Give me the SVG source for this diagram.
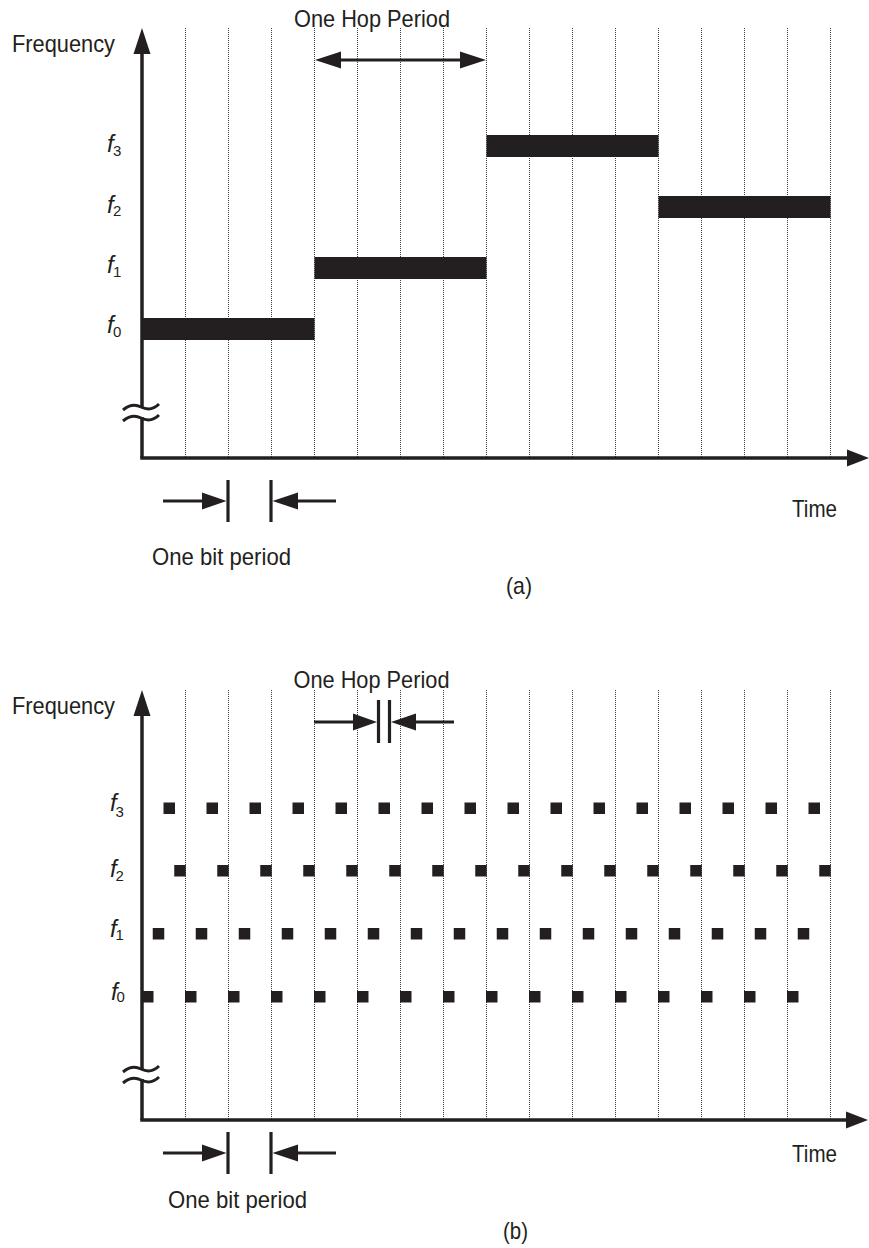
<svg xmlns="http://www.w3.org/2000/svg" width="869" height="1248" viewBox="0 0 869 1248">
<style>
  .bg{fill:#fff}
  .ax{stroke:#231f20;stroke-width:3.5;fill:none}
  .ln{stroke:#231f20;stroke-width:3.2;fill:none}
  .head{fill:#231f20}
  .bar{fill:#231f20}
  .sq{fill:#231f20}
  .wave{stroke:#231f20;stroke-width:3;fill:none}
  text{font-family:"Liberation Sans",Arial,sans-serif;fill:#231f20}
  .lbl{font-size:24px}
  .fi{font-size:24px;font-style:italic}
  .fs{font-size:15px}
</style>
<defs>
  <g id="gridlines" stroke="#3a3a3a" stroke-width="1" stroke-dasharray="1 1" fill="none">
    <line x1="185.5" y1="0" x2="185.5" y2="430"/>
    <line x1="228.5" y1="0" x2="228.5" y2="430"/>
    <line x1="271.5" y1="0" x2="271.5" y2="430"/>
    <line x1="314.5" y1="0" x2="314.5" y2="430"/>
    <line x1="357.5" y1="0" x2="357.5" y2="430"/>
    <line x1="400.5" y1="0" x2="400.5" y2="430"/>
    <line x1="443.5" y1="0" x2="443.5" y2="430"/>
    <line x1="486.5" y1="0" x2="486.5" y2="430"/>
    <line x1="529.5" y1="0" x2="529.5" y2="430"/>
    <line x1="572.5" y1="0" x2="572.5" y2="430"/>
    <line x1="615.5" y1="0" x2="615.5" y2="430"/>
    <line x1="658.5" y1="0" x2="658.5" y2="430"/>
    <line x1="701.5" y1="0" x2="701.5" y2="430"/>
    <line x1="744.5" y1="0" x2="744.5" y2="430"/>
    <line x1="787.5" y1="0" x2="787.5" y2="430"/>
    <line x1="830.5" y1="0" x2="830.5" y2="430"/>
  </g>
  <g id="sqrow" fill="#231f20">
    <rect x="0" y="0" width="11.5" height="11.5"/>
    <rect x="43" y="0" width="11.5" height="11.5"/>
    <rect x="86" y="0" width="11.5" height="11.5"/>
    <rect x="129" y="0" width="11.5" height="11.5"/>
    <rect x="172" y="0" width="11.5" height="11.5"/>
    <rect x="215" y="0" width="11.5" height="11.5"/>
    <rect x="258" y="0" width="11.5" height="11.5"/>
    <rect x="301" y="0" width="11.5" height="11.5"/>
    <rect x="344" y="0" width="11.5" height="11.5"/>
    <rect x="387" y="0" width="11.5" height="11.5"/>
    <rect x="430" y="0" width="11.5" height="11.5"/>
    <rect x="473" y="0" width="11.5" height="11.5"/>
    <rect x="516" y="0" width="11.5" height="11.5"/>
    <rect x="559" y="0" width="11.5" height="11.5"/>
    <rect x="602" y="0" width="11.5" height="11.5"/>
    <rect x="645" y="0" width="11.5" height="11.5"/>
  </g>
  <path id="brk" stroke="#231f20" stroke-width="3" fill="none" d="M123,3 C129,-2 135,-3 141,0 S153,3 159,-3"/>
</defs>
<rect class="bg" x="0" y="0" width="869" height="1248"/>

<!-- Panel (a) -->
<g id="panel-a">
  <use id="a-grid" href="#gridlines" transform="translate(0,28)"/>
  <g id="a-bars">
    <rect class="bar" x="142" y="318" width="172.5" height="22"/>
    <rect class="bar" x="314.5" y="257" width="172" height="22"/>
    <rect class="bar" x="486.5" y="135" width="172" height="22"/>
    <rect class="bar" x="658.5" y="196" width="172" height="22"/>
  </g>
  <g id="a-axes">
    <line class="ax" x1="142" y1="50" x2="142" y2="408"/>
    <line class="ax" x1="142" y1="417" x2="142" y2="458"/>
    <polygon class="head" points="142,28 150.5,54 133.5,54"/>
    <line class="ax" x1="140.25" y1="458" x2="849" y2="458"/>
    <polygon class="head" points="869,458 847,449.5 847,466.5"/>
    <use href="#brk" transform="translate(0,407)"/>
    <use href="#brk" transform="translate(0,418)"/>
  </g>
  <g id="a-flabels">
    <text class="fi" x="107" y="152">f</text><text class="fs" x="113" y="156">3</text>
    <text class="fi" x="107" y="213">f</text><text class="fs" x="113" y="216">2</text>
    <text class="fi" x="107" y="273">f</text><text class="fs" x="113" y="277">1</text>
    <text class="fi" x="107" y="333">f</text><text class="fs" x="113" y="337">0</text>
  </g>
  <g id="a-labels">
    <text class="lbl" x="12" y="52" textLength="103" lengthAdjust="spacingAndGlyphs">Frequency</text>
    <text class="lbl" x="294" y="27" textLength="156" lengthAdjust="spacingAndGlyphs">One Hop Period</text>
    <text class="lbl" x="152" y="565" textLength="139" lengthAdjust="spacingAndGlyphs">One bit period</text>
    <text class="lbl" x="792" y="517" textLength="45" lengthAdjust="spacingAndGlyphs">Time</text>
    <text class="lbl" x="506" y="594" textLength="26" lengthAdjust="spacingAndGlyphs">(a)</text>
  </g>
</g>

<!-- Panel (b) -->
<g id="panel-b">
  <use id="b-grid" href="#gridlines" transform="translate(0,690)"/>
  <g id="b-squares">
    <use href="#sqrow" transform="translate(142,991)"/>
    <use href="#sqrow" transform="translate(152.75,928)"/>
    <use href="#sqrow" transform="translate(163.5,802.5)"/>
    <use href="#sqrow" transform="translate(174.25,865)"/>
  </g>
  <g id="b-axes">
    <line class="ax" x1="142" y1="712" x2="142" y2="1070"/>
    <line class="ax" x1="142" y1="1079" x2="142" y2="1120"/>
    <polygon class="head" points="142,690 150.5,716 133.5,716"/>
    <line class="ax" x1="140.25" y1="1120" x2="849" y2="1120"/>
    <polygon class="head" points="868,1120 846,1111.5 846,1128.5"/>
    <use href="#brk" transform="translate(0,1069)"/>
    <use href="#brk" transform="translate(0,1080)"/>
  </g>
  <g id="b-flabels">
    <text class="fi" x="110" y="811">f</text><text class="fs" x="115.5" y="817">3</text>
    <text class="fi" x="110" y="877">f</text><text class="fs" x="115.5" y="881">2</text>
    <text class="fi" x="110" y="937">f</text><text class="fs" x="115.5" y="940">1</text>
    <text class="fi" x="111" y="1000">f</text><text class="fs" x="116.5" y="1002">0</text>
  </g>
  <g id="b-labels">
    <text class="lbl" x="12" y="714" textLength="103" lengthAdjust="spacingAndGlyphs">Frequency</text>
    <text class="lbl" x="293.5" y="688" textLength="156" lengthAdjust="spacingAndGlyphs">One Hop Period</text>
    <text class="lbl" x="168" y="1208" textLength="139" lengthAdjust="spacingAndGlyphs">One bit period</text>
    <text class="lbl" x="792" y="1162" textLength="45" lengthAdjust="spacingAndGlyphs">Time</text>
    <text class="lbl" x="503" y="1239" textLength="25" lengthAdjust="spacingAndGlyphs">(b)</text>
  </g>
</g>

<!-- Connectors / dimension arrows -->
<g id="connectors">
  <line class="ln" x1="339" y1="60" x2="462" y2="60"/>
  <polygon class="head" points="315,60 341,51.5 341,68.5"/>
  <polygon class="head" points="486,60 460,51.5 460,68.5"/>
  <line class="ln" x1="163" y1="501" x2="204" y2="501"/>
  <polygon class="head" points="226.5,501 202,492.5 202,509.5"/>
  <line class="ln" x1="228" y1="480" x2="228" y2="522"/>
  <line class="ln" x1="271" y1="480" x2="271" y2="522"/>
  <polygon class="head" points="272.5,501 298,492.5 298,509.5"/>
  <line class="ln" x1="296" y1="501" x2="336" y2="501"/>
  <line class="ln" x1="314" y1="722" x2="355" y2="722"/>
  <polygon class="head" points="377,722 353,713.5 353,730.5"/>
  <line class="ln" x1="378.5" y1="700" x2="378.5" y2="743"/>
  <line class="ln" x1="389.5" y1="700" x2="389.5" y2="743"/>
  <polygon class="head" points="391,722 416,713.5 416,730.5"/>
  <line class="ln" x1="414" y1="722" x2="454" y2="722"/>
  <line class="ln" x1="163" y1="1153" x2="204" y2="1153"/>
  <polygon class="head" points="226.5,1153 202,1144.5 202,1161.5"/>
  <line class="ln" x1="228" y1="1132" x2="228" y2="1174"/>
  <line class="ln" x1="271" y1="1132" x2="271" y2="1174"/>
  <polygon class="head" points="272.5,1153 298,1144.5 298,1161.5"/>
  <line class="ln" x1="296" y1="1153" x2="336" y2="1153"/>
</g>
</svg>
